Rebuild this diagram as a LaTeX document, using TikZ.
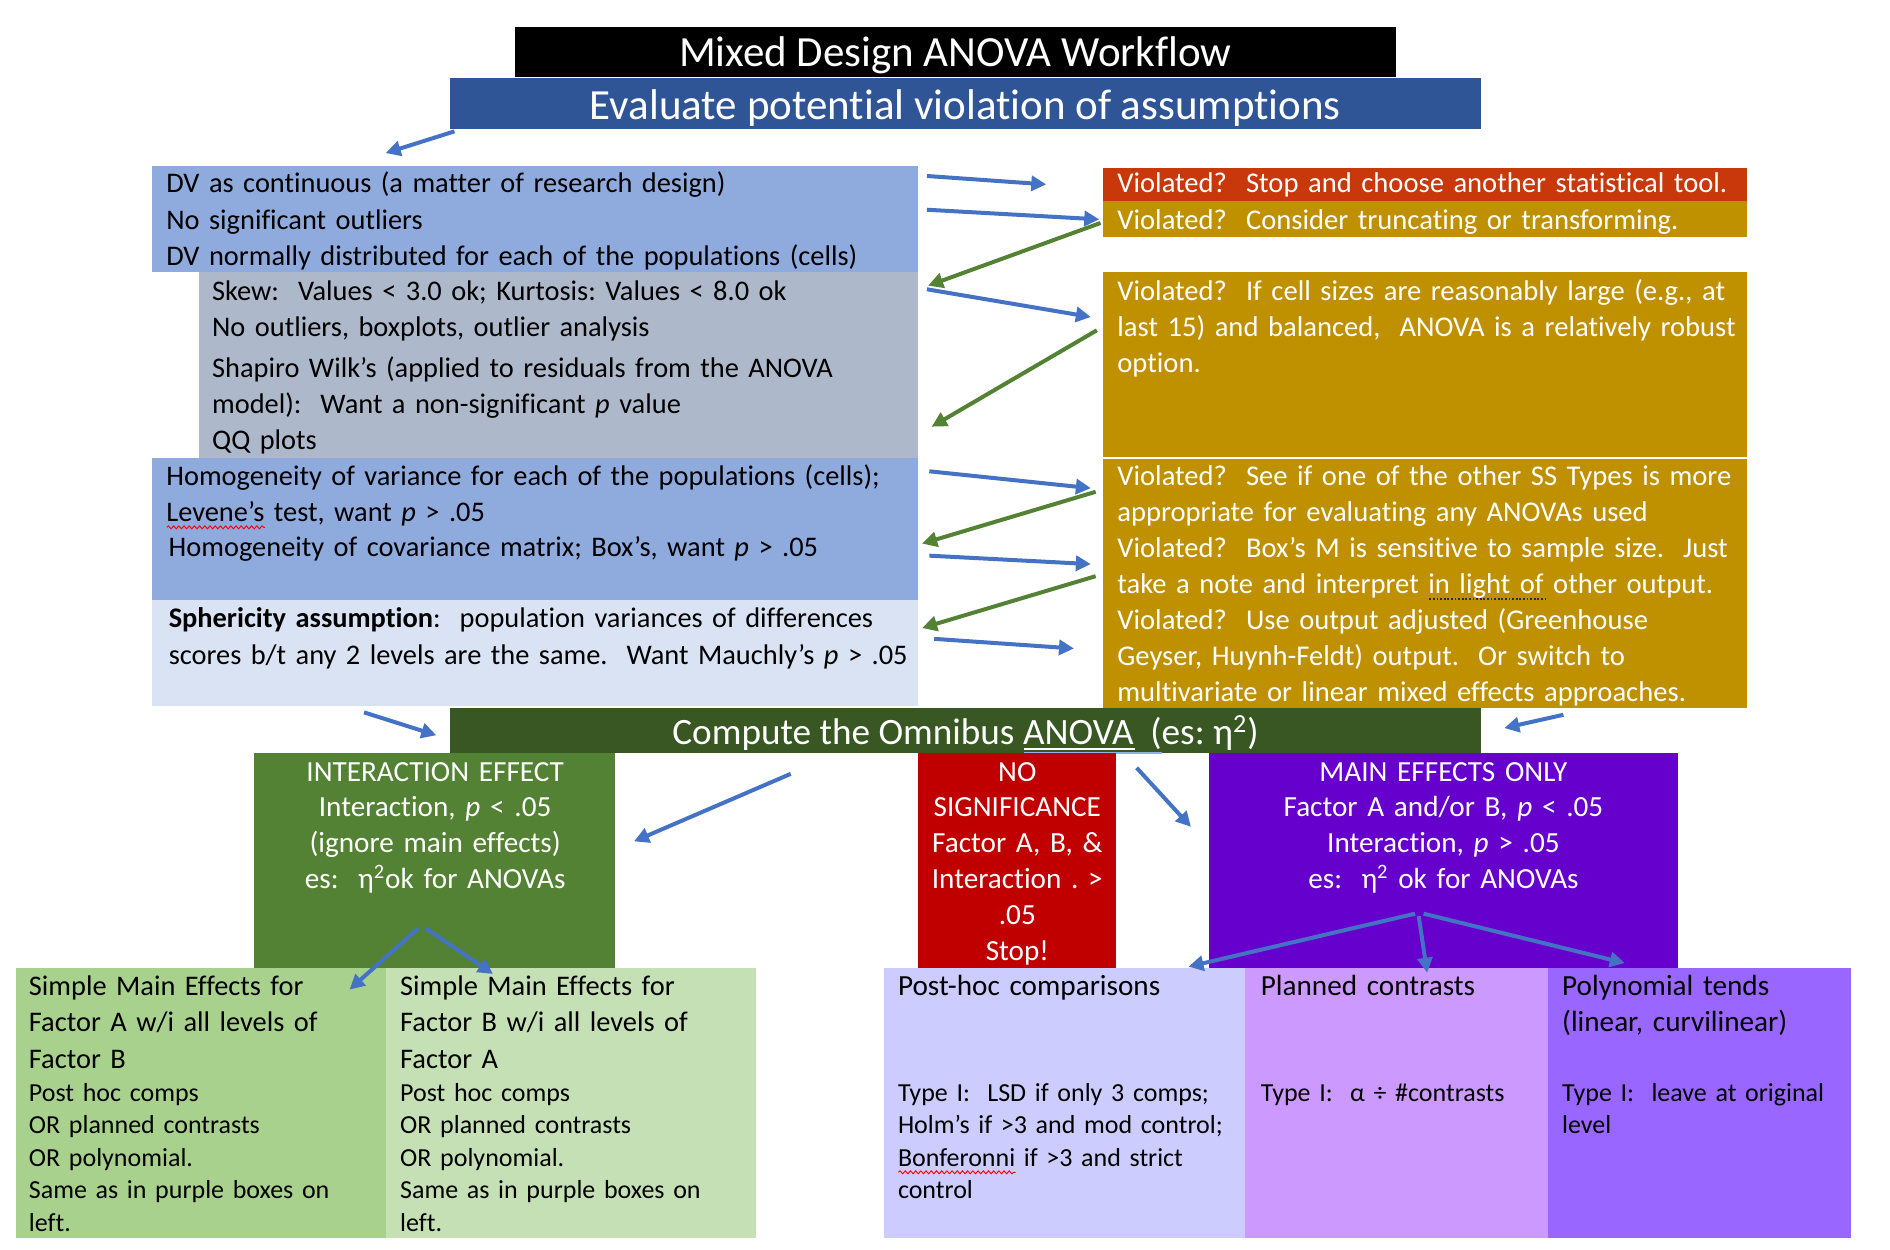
\documentclass[tikz,border=0pt]{standalone}
\usepackage{fontspec}
\setmainfont{Carlito}[Ligatures=NoCommon]
\frenchspacing
\usetikzlibrary{arrows.meta,fit,decorations.pathmorphing}

\definecolor{hdrblue}{HTML}{2F5597}
\definecolor{lblue}{HTML}{8FAADC}
\definecolor{lgray}{HTML}{ADB9CA}
\definecolor{paleblue}{HTML}{DAE3F3}
\definecolor{stopred}{HTML}{C9380B}
\definecolor{gold}{HTML}{BF9000}
\definecolor{dgreen}{HTML}{385723}
\definecolor{mgreen}{HTML}{548235}
\definecolor{nored}{HTML}{C00000}
\definecolor{mpurple}{HTML}{6600CC}
\definecolor{greenA}{HTML}{A9D18E}
\definecolor{greenB}{HTML}{C5E0B4}
\definecolor{lav}{HTML}{CCCCFF}
\definecolor{lilac}{HTML}{CC99FF}
\definecolor{violet}{HTML}{9966FF}
\definecolor{arrblue}{HTML}{4472C4}
\definecolor{arrgreen}{HTML}{548235}
\definecolor{lineblue}{HTML}{8FB4E3}
\definecolor{dotnavy}{HTML}{1F2D5A}

% proofing marks drawn under a few words
\newlength\marklen
\newcommand\spellmark[1]{\settowidth\marklen{#1}\leavevmode\rlap{\smash{\tikz[x=1pt,y=1pt,baseline=0pt]
  \draw[red,line width=0.45pt,decorate,decoration={snake,amplitude=0.75pt,segment length=2.6pt}]
  (0pt,-3pt)--(\marklen,-3pt);}}#1}
\newcommand\grammarmark[1]{\settowidth\marklen{#1}\leavevmode\rlap{\smash{\tikz[x=1pt,y=1pt,baseline=0pt]
  \draw[dotnavy,line width=0.9pt,dash pattern=on 0.9pt off 0.9pt]
  (0pt,-2.6pt)--(\marklen,-2.6pt);}}#1}
\newcommand\twoline[1]{\settowidth\marklen{#1}\leavevmode\rlap{\smash{\tikz[x=1pt,y=1pt,baseline=0pt]{
  \draw[white,line width=0.9pt] (0pt,-2.2pt)--(\marklen,-2.2pt);
  \draw[lineblue,line width=0.6pt] (0pt,-4pt)--(\marklen,-4pt);}}}#1}
\newcommand\oneline[1]{\settowidth\marklen{#1}\leavevmode\rlap{\smash{\tikz[x=1pt,y=1pt,baseline=0pt]
  \draw[lineblue,line width=0.6pt] (0pt,-4pt)--(\marklen,-4pt);}}#1}

\begin{document}
\begin{tikzpicture}[x=0.6027pt,y=-0.6027pt,
  panel/.style={inner sep=0pt,outer sep=0pt,draw=none,fill=#1},
  bodytxt/.style={inner sep=0pt,outer sep=0pt,anchor=base west,align=left,text width=#1,
    font=\fontsize{14.2}{18.1}\selectfont},
  goldtxt/.style={inner sep=0pt,outer sep=0pt,anchor=base west,align=left,text width=#1,
    font=\fontsize{14.3}{17.95}\selectfont,text=white},
  toptxt/.style={inner sep=0pt,outer sep=0pt,anchor=base west,align=left,text width=#1,
    font=\fontsize{14.6}{18.1}\selectfont},
  smalltxt/.style={inner sep=0pt,outer sep=0pt,anchor=base west,align=left,text width=#1,
    font=\fontsize{13.0}{16.3}\selectfont},
  centertxt/.style={inner sep=0pt,outer sep=0pt,anchor=base,align=center,text width=#1,
    font=\fontsize{14.6}{17.95}\selectfont,text=white},
  bigtxt/.style={inner sep=0pt,outer sep=0pt,anchor=base,text=white,font=\fontsize{21.5}{25}\selectfont},
  barrow/.style={draw=arrblue,line width=2pt,-{Triangle[length=7.5pt,width=7.5pt]}},
  garrow/.style={draw=arrgreen,line width=2pt,-{Triangle[length=7.5pt,width=7.5pt]}}
]
\useasboundingbox (0,0) rectangle (1568,1037);

% ---------- headings ----------
\node[panel=black,fit={(427,22) (1158,64)}] (title) {};
\node[bigtxt] (titletxt) at (792.5,55) {Mixed Design ANOVA Workflow};
\node[panel=hdrblue,fit={(373,65) (1229,107)}] (hdr) {};
\node[bigtxt] (hdrtxt) at (801,99) {Evaluate potential violation of assumptions};

% ---------- assumptions (left column) ----------
\node[panel=lblue,fit={(126,138) (762,226)}] (dv) {};
\node[panel=lgray,fit={(165,226) (762,380)}] (norm) {};
\node[panel=lblue,fit={(126,380) (762,498)}] (homog) {};
\node[panel=paleblue,fit={(126,498) (762,586)}] (spher) {};

\node[bodytxt=420pt] (dvtxt) at (138,160) {DV as continuous (a matter of research design)\\
No significant outliers\\
DV normally distributed for each of the populations (cells)};
\node[bodytxt=400pt] (normtxt) at (176,249) {Skew:~ Values {\textless} 3.0 ok; Kurtosis: Values {\textless} 8.0 ok\\
No outliers, boxplots, outlier analysis\\[2.4pt]
Shapiro Wilk’s (applied to residuals from the ANOVA\\
model):~ Want a non-significant \textit{p} value\\
QQ plots};
\node[bodytxt=420pt,font=\fontsize{14.2}{17.8}\selectfont] (homogtxt) at (138,403) {Homogeneity of variance for each of the populations (cells);\\
\spellmark{Levene’s} test, want \textit{p} {\textgreater} .05\\
\hspace*{1.2pt}Homogeneity of covariance matrix; Box’s, want \textit{p} {\textgreater} .05};
\node[bodytxt=420pt] (sphertxt) at (140,521) {\textbf{Sphericity assumption}:~ population variances of differences\\
scores b/t any 2 levels are the same.~ Want Mauchly’s \textit{p} {\textgreater} .05};

% ---------- remedies (right column) ----------
\node[panel=stopred,fit={(915,139) (1449,167)}] (stop) {};
\node[panel=gold,fit={(915,167) (1449,197)}] (trans) {};
\node[panel=gold,fit={(915,226) (1449,379)}] (robust) {};
\node[panel=gold,fit={(915,380.6) (1449,587)}] (other) {};

\node[goldtxt=330pt] (stoptxt) at (927,160) {Violated?~ Stop and choose another statistical tool.};
\node[goldtxt=330pt] (transtxt) at (927,190) {Violated?~ Consider truncating or transforming.};
\node[goldtxt=330pt,font=\fontsize{14.3}{18.1}\selectfont] (robusttxt) at (927,249) {Violated?~ If cell sizes are reasonably large (e.g., at\\
last 15) and balanced,~ ANOVA is a relatively robust\\
option.};
\node[goldtxt=330pt] (othertxt) at (927,403) {Violated?~ See if one of the other SS Types is more\\
appropriate for evaluating any ANOVAs used\\
Violated?~ Box’s M is sensitive to sample size.~ Just\\
take a note and interpret \grammarmark{in light of} other output.\\
Violated?~ Use output adjusted (Greenhouse\\
Geyser, Huynh-Feldt) output.~ Or switch to\\
multivariate or linear mixed effects approaches.};

% ---------- omnibus test and outcomes ----------
\node[panel=dgreen,fit={(373,587) (1229,625)}] (omni) {};
\node[inner sep=0pt,anchor=base,text=white,font=\fontsize{18.6}{22}\selectfont] (omnitxt) at (801,618)
  {Compute the Omnibus \twoline{ANOVA}\oneline{\ \ (}es: η\textsuperscript{2})};

\node[panel=mgreen,fit={(211,625) (510,803)}] (inter) {};
\node[panel=nored,fit={(762,625) (926,803)}] (nosig) {};
\node[panel=mpurple,fit={(1003,625) (1392,803)}] (mainfx) {};

\node[centertxt=180pt] (intertxt) at (361,648) {INTERACTION EFFECT\\
Interaction, \textit{p} {\textless} .05\\
(ignore main effects)\\
es:~ η\textsuperscript{2}ok for ANOVAs};
\node[centertxt=98pt] (nosigtxt) at (844,648) {NO\\
SIGNIFICANCE\\
Factor A, B, \&\\
Interaction . {\textgreater}\\
.05\\
Stop!};
\node[centertxt=234pt] (mainfxtxt) at (1197.5,648) {MAIN EFFECTS ONLY\\
Factor A and/or B, \textit{p} {\textless} .05\\
Interaction, \textit{p} {\textgreater} .05\\
es:~ η\textsuperscript{2} ok for ANOVAs};

% ---------- follow-up analyses ----------
\node[panel=greenA,fit={(13,803) (320,1027)}] (smeA) {};
\node[panel=greenB,fit={(320,803) (627,1027)}] (smeB) {};
\node[panel=lav,fit={(733,803) (1033,1027)}] (posthoc) {};
\node[panel=lilac,fit={(1033,803) (1284,1027)}] (planned) {};
\node[panel=violet,fit={(1284,803) (1536,1027)}] (poly) {};

\node[bodytxt=180pt] (smeAtop) at (24,826) {Simple Main Effects for\\
Factor A w/i all levels of\\
Factor B};
\node[smalltxt=180pt] (smeAbot) at (24,913.5) {Post hoc comps\\
OR planned contrasts\\
OR polynomial.\\
Same as in purple boxes on\\
left.};
\node[bodytxt=180pt] (smeBtop) at (332,826) {Simple Main Effects for\\
Factor B w/i all levels of\\
Factor A};
\node[smalltxt=180pt] (smeBbot) at (332,913.5) {Post hoc comps\\
OR planned contrasts\\
OR polynomial.\\
Same as in purple boxes on\\
left.};

\node[toptxt=175pt] (posthoctop) at (745,826) {Post-hoc comparisons};
\node[smalltxt=175pt] (posthocbot) at (745,913.5) {Type I:~ LSD if only 3 comps;\\
Holm’s if {\textgreater}3 and mod control;\\
\spellmark{Bonferonni} if {\textgreater}3 and strict\\
control};
\node[toptxt=145pt] (plannedtop) at (1046,826) {Planned contrasts};
\node[smalltxt=145pt] (plannedbot) at (1046,913.5) {Type I:~ α ÷ \#contrasts};
\node[toptxt=145pt] (polytop) at (1296,826) {Polynomial tends\\
(linear, curvilinear)};
\node[smalltxt=145pt] (polybot) at (1296,913.5) {Type I:~ leave at original\\
level};

% ---------- arrow end points ----------
\coordinate (a1s) at (377,109);   \coordinate (a1e) at (320,127);
\coordinate (a2s) at (769,146);   \coordinate (a2e) at (868,153);
\coordinate (a3s) at (769,174);   \coordinate (a3e) at (912,182);
\coordinate (a4s) at (769,240);   \coordinate (a4e) at (905,263);
\coordinate (a5s) at (771,391);   \coordinate (a5e) at (905,405);
\coordinate (a6s) at (771,461);   \coordinate (a6e) at (905,468);
\coordinate (a7s) at (775,530);   \coordinate (a7e) at (891,538);
\coordinate (a8s) at (302,591);   \coordinate (a8e) at (362,610);
\coordinate (a9s) at (1297,593);  \coordinate (a9e) at (1248,604);
\coordinate (a10s) at (656,642);  \coordinate (a10e) at (526,698);
\coordinate (a11s) at (943,637);  \coordinate (a11e) at (988,686);
\coordinate (a12s) at (347,770);  \coordinate (a12e) at (290,821);
\coordinate (a13s) at (353,770);  \coordinate (a13e) at (409,808);
\coordinate (a14s) at (1174,758); \coordinate (a14e) at (986,802);
\coordinate (a15s) at (1177,760); \coordinate (a15e) at (1184,807);
\coordinate (a16s) at (1181,758); \coordinate (a16e) at (1348,799);

\coordinate (g1s) at (913,185);   \coordinate (g1e) at (770,237);
\coordinate (g2s) at (910,274);   \coordinate (g2e) at (773,354);
\coordinate (g3s) at (909,408);   \coordinate (g3e) at (765,451);
\coordinate (g4s) at (909,478);   \coordinate (g4e) at (765,521);

% ---------- arrows ----------
\foreach \i in {1,...,16} \draw[barrow] (a\i s) -- (a\i e);
\foreach \i in {1,...,4} \draw[garrow] (g\i s) -- (g\i e);
\end{tikzpicture}
\end{document}
